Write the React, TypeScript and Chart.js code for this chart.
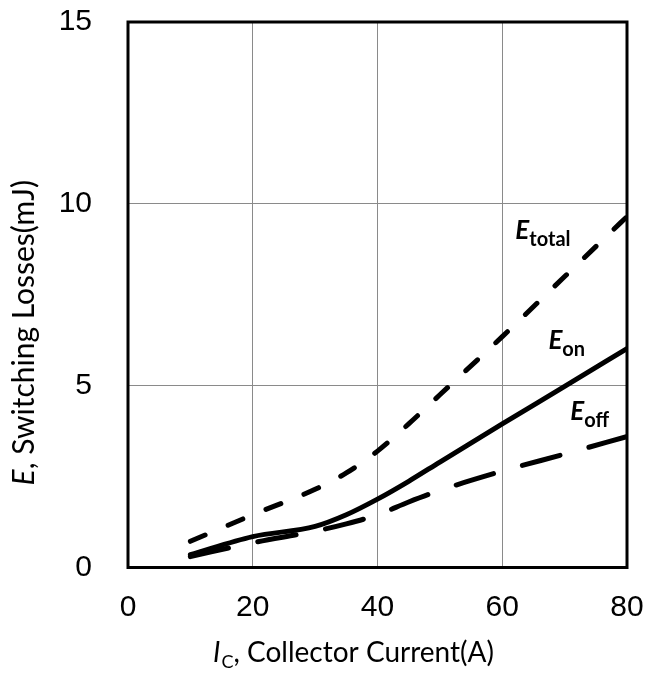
import React, { useEffect, useRef } from "react";
import { Chart, registerables } from "chart.js";

Chart.register(...registerables);

// Collector current (A)
const currents = [10, 20, 30, 35, 40, 45, 50, 60, 70, 80];
// Switching losses (mJ)
const eTotal = [0.72, 1.45, 2.15, 2.6, 3.2, 3.95, 4.75, 6.35, 8.0, 9.65];
const eOn = [0.35, 0.85, 1.13, 1.45, 1.88, 2.37, 2.9, 3.95, 4.98, 6.02];
const eOff = [0.3, 0.68, 1.0, 1.2, 1.45, 1.8, 2.12, 2.65, 3.12, 3.6];

const xTicks = [0, 20, 40, 60, 80];
const yTicks = [0, 5, 10, 15];

const curveLabels = [
  { main: "E", sub: "total", x: 62.1, y: 9.03 },
  { main: "E", sub: "on", x: 67.4, y: 6.0 },
  { main: "E", sub: "off", x: 70.9, y: 4.05 },
];

const yTitle = { italic: "E", rest: ", Switching Losses(mJ)" };
const xTitle = { italic: "I", sub: "C", rest: ", Collector Current(A)" };

const TITLE_FONT = "Lato";
const TICK_FONT = "'Liberation Sans', Arial, sans-serif";

const decorPlugin = {
  id: "decor",
  beforeDatasetsDraw(chart: any) {
    const { ctx, chartArea } = chart;
    ctx.save();
    ctx.strokeStyle = "#000";
    ctx.lineWidth = 3;
    ctx.strokeRect(
      chartArea.left,
      chartArea.top,
      chartArea.right - chartArea.left,
      chartArea.bottom - chartArea.top
    );
    ctx.restore();
  },
  afterDraw(chart: any) {
    const { ctx, chartArea, scales } = chart;
    ctx.save();
    ctx.fillStyle = "#000";
    ctx.textBaseline = "alphabetic";
    ctx.textAlign = "left";

    // curve labels
    for (const l of curveLabels) {
      const px = scales.x.getPixelForValue(l.x);
      const py = scales.y.getPixelForValue(l.y);
      ctx.font = `italic bold 26px ${TITLE_FONT}`;
      ctx.fillText(l.main, px, py);
      const w = ctx.measureText(l.main).width;
      ctx.font = `bold 20px ${TITLE_FONT}`;
      ctx.fillText(l.sub, px + w, py + 7);
    }

    // x title
    const xSize = 28;
    const subSize = 18;
    ctx.font = `italic ${xSize}px ${TITLE_FONT}`;
    const wI = ctx.measureText(xTitle.italic).width;
    ctx.font = `${subSize}px ${TITLE_FONT}`;
    const wS = ctx.measureText(xTitle.sub).width;
    ctx.font = `${xSize}px ${TITLE_FONT}`;
    const wR = ctx.measureText(xTitle.rest).width;
    const totalX = wI + 1 + wS + wR;
    const cx = (chartArea.left + chartArea.right) / 2 - 24;
    let x0 = cx - totalX / 2;
    const by = chartArea.bottom + 94.5;
    ctx.font = `italic ${xSize}px ${TITLE_FONT}`;
    ctx.fillText(xTitle.italic, x0, by);
    x0 += wI + 1;
    ctx.font = `${subSize}px ${TITLE_FONT}`;
    ctx.fillText(xTitle.sub, x0, by + 6);
    x0 += wS;
    ctx.font = `${xSize}px ${TITLE_FONT}`;
    ctx.fillText(xTitle.rest, x0, by);

    // y title (rotated)
    const ySize = 30;
    ctx.font = `italic ${ySize}px ${TITLE_FONT}`;
    const wE = ctx.measureText(yTitle.italic).width;
    ctx.font = `${ySize}px ${TITLE_FONT}`;
    const wRest = ctx.measureText(yTitle.rest).width;
    const totalY = wE + wRest;
    const cy = (chartArea.top + chartArea.bottom) / 2 + 38;
    ctx.translate(chartArea.left - 94, cy);
    ctx.rotate(-Math.PI / 2);
    let t0 = -totalY / 2;
    ctx.font = `italic ${ySize}px ${TITLE_FONT}`;
    ctx.fillText(yTitle.italic, t0, 0);
    t0 += wE;
    ctx.font = `${ySize}px ${TITLE_FONT}`;
    ctx.fillText(yTitle.rest, t0, 0);
    ctx.restore();
  },
};

export default function App() {
  const canvasRef = useRef<HTMLCanvasElement | null>(null);

  useEffect(() => {
    const canvas = canvasRef.current;
    if (!canvas) return;
    const gridColor = (max: number) => (c: any) =>
      c.tick && (c.tick.value === 0 || c.tick.value === max) ? "rgba(0,0,0,0)" : "#8a8a8a";

    const lineBase = {
      borderColor: "#000",
      borderWidth: 5,
      pointRadius: 0,
      pointHoverRadius: 0,
      fill: false,
      cubicInterpolationMode: "monotone" as const,
      borderCapStyle: "round" as const,
      borderJoinStyle: "round" as const,
    };

    const chart = new Chart(canvas, {
      type: "line",
      data: {
        datasets: [
          {
            ...lineBase,
            label: "Etotal",
            data: currents.map((c, i) => ({ x: c, y: eTotal[i] })),
            borderDash: [16, 25],
          },
          {
            ...lineBase,
            label: "Eon",
            data: currents.map((c, i) => ({ x: c, y: eOn[i] })),
          },
          {
            ...lineBase,
            label: "Eoff",
            data: currents.map((c, i) => ({ x: c, y: eOff[i] })),
            borderDash: [39, 30],
          },
        ],
      },
      options: {
        responsive: false,
        animation: false,
        devicePixelRatio: 1,
        events: [],
        layout: { padding: { top: 22, right: 31, left: 0, bottom: 0 } },
        plugins: {
          legend: { display: false },
          tooltip: { enabled: false },
          title: { display: false },
        },
        scales: {
          x: {
            type: "linear",
            min: 0,
            max: 80,
            afterBuildTicks: (s: any) => {
              s.ticks = xTicks.map((v) => ({ value: v }));
            },
            afterFit: (s: any) => {
              s.height = 105.5;
            },
            border: { display: false },
            grid: {
              color: gridColor(80),
              lineWidth: 1,
              drawTicks: true,
              tickLength: 22,
              tickColor: "rgba(0,0,0,0)",
            },
            ticks: {
              padding: 0,
              color: "#000",
              font: { family: TICK_FONT, size: 30 },
              maxRotation: 0,
            },
          },
          y: {
            type: "linear",
            min: 0,
            max: 15,
            afterBuildTicks: (s: any) => {
              s.ticks = yTicks.map((v) => ({ value: v }));
            },
            afterFit: (s: any) => {
              s.width = 128;
            },
            border: { display: false },
            grid: {
              color: gridColor(15),
              lineWidth: 1,
              drawTicks: true,
              tickLength: 36,
              tickColor: "rgba(0,0,0,0)",
            },
            ticks: {
              padding: 0,
              color: "#000",
              font: { family: TICK_FONT, size: 30 },
            },
          },
        },
      },
      plugins: [decorPlugin],
    });

    return () => chart.destroy();
  }, []);

  return (
    <div style={{ position: "absolute", left: 0, top: 0, width: 658, height: 673, background: "#fff" }}>
      <canvas ref={canvasRef} width={658} height={673} style={{ display: "block" }} />
    </div>
  );
}
